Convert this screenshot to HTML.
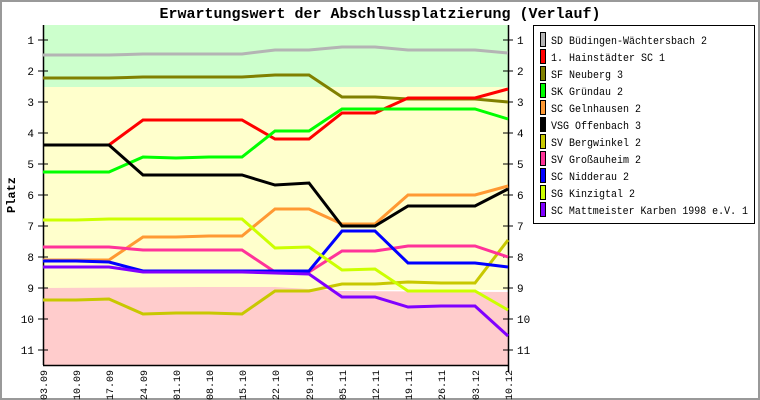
<!DOCTYPE html>
<html><head><meta charset="utf-8"><style>
html,body{margin:0;padding:0;background:#fff}
svg{display:block}
text{font-family:"Liberation Mono","DejaVu Sans Mono",monospace;fill:#000}
</style></head><body>
<svg width="760" height="400" viewBox="0 0 760 400" xmlns="http://www.w3.org/2000/svg">
<rect x="1" y="1" width="758" height="398" fill="#fff" stroke="#999" stroke-width="2"/>
<text x="380" y="18" text-anchor="middle" font-size="15" font-weight="bold">Erwartungswert der Abschlussplatzierung (Verlauf)</text>
<rect x="43" y="25" width="465" height="62" fill="#ccffcc"/>
<rect x="43" y="87" width="465" height="203" fill="#ffffcc"/>
<polygon points="43,288 200,287 275,287 342,291 508,292 508,365 43,365" fill="#ffcccc"/>
<g stroke="#000" stroke-width="1.5" fill="none">
<line x1="43.5" y1="25" x2="43.5" y2="365"/>
<line x1="43" y1="365.5" x2="508" y2="365.5"/>
<line x1="508.5" y1="25" x2="508.5" y2="372"/>
</g>
<g stroke="#000" stroke-width="1">
<line x1="38" y1="40" x2="48" y2="40"/><line x1="38" y1="71" x2="48" y2="71"/><line x1="38" y1="102" x2="48" y2="102"/><line x1="38" y1="133" x2="48" y2="133"/><line x1="38" y1="164" x2="48" y2="164"/><line x1="38" y1="195" x2="48" y2="195"/><line x1="38" y1="226" x2="48" y2="226"/><line x1="38" y1="257" x2="48" y2="257"/><line x1="38" y1="288" x2="48" y2="288"/><line x1="38" y1="319" x2="48" y2="319"/><line x1="38" y1="350" x2="48" y2="350"/>
<line x1="503" y1="40" x2="513" y2="40"/><line x1="503" y1="71" x2="513" y2="71"/><line x1="503" y1="102" x2="513" y2="102"/><line x1="503" y1="133" x2="513" y2="133"/><line x1="503" y1="164" x2="513" y2="164"/><line x1="503" y1="195" x2="513" y2="195"/><line x1="503" y1="226" x2="513" y2="226"/><line x1="503" y1="257" x2="513" y2="257"/><line x1="503" y1="288" x2="513" y2="288"/><line x1="503" y1="319" x2="513" y2="319"/><line x1="503" y1="350" x2="513" y2="350"/>
</g>
<g font-size="11" text-anchor="end">
<text x="34" y="44">1</text><text x="34" y="75">2</text><text x="34" y="106">3</text><text x="34" y="137">4</text><text x="34" y="168">5</text><text x="34" y="199">6</text><text x="34" y="230">7</text><text x="34" y="261">8</text><text x="34" y="292">9</text><text x="34" y="323">10</text><text x="34" y="354">11</text>
</g>
<g font-size="11" text-anchor="start">
<text x="517" y="44">1</text><text x="517" y="75">2</text><text x="517" y="106">3</text><text x="517" y="137">4</text><text x="517" y="168">5</text><text x="517" y="199">6</text><text x="517" y="230">7</text><text x="517" y="261">8</text><text x="517" y="292">9</text><text x="517" y="323">10</text><text x="517" y="354">11</text>
</g>
<text x="15" y="195" font-size="12" font-weight="bold" text-anchor="middle" transform="rotate(-90 15 195)">Platz</text>
<g font-size="10" text-anchor="end">
<text transform="translate(47,370) rotate(-90)">03.09</text>
<text transform="translate(80,370) rotate(-90)">10.09</text>
<text transform="translate(113,370) rotate(-90)">17.09</text>
<text transform="translate(147,370) rotate(-90)">24.09</text>
<text transform="translate(180,370) rotate(-90)">01.10</text>
<text transform="translate(213,370) rotate(-90)">08.10</text>
<text transform="translate(246,370) rotate(-90)">15.10</text>
<text transform="translate(279,370) rotate(-90)">22.10</text>
<text transform="translate(313,370) rotate(-90)">29.10</text>
<text transform="translate(346,370) rotate(-90)">05.11</text>
<text transform="translate(379,370) rotate(-90)">12.11</text>
<text transform="translate(412,370) rotate(-90)">19.11</text>
<text transform="translate(445,370) rotate(-90)">26.11</text>
<text transform="translate(479,370) rotate(-90)">03.12</text>
<text transform="translate(512,370) rotate(-90)">10.12</text>
</g>
<g fill="none" stroke-width="3" stroke-linejoin="miter">
<polyline stroke="#b4b4b4" points="43,55 76,55 109,55 143,54 176,54 209,54 242,54 275,50 309,50 342,47 375,47 408,50 441,50 475,50 508,53"/>
<polyline stroke="#808000" points="43,78 76,78 109,78 143,77 176,77 209,77 242,77 275,75 309,75 342,97 375,97 408,99 441,99 475,99 508,102"/>
<polyline stroke="#ff0000" points="43,145 76,145 109,145 143,120 176,120 209,120 242,120 275,139 309,139 342,113 375,113 408,98 441,98 475,98 508,89"/>
<polyline stroke="#00ff00" points="43,172 76,172 109,172 143,157 176,158 209,157 242,157 275,131 309,131 342,109 375,109 408,109 441,109 475,109 508,119"/>
<polyline stroke="#ff9933" points="43,260 76,260 109,260 143,237 176,237 209,236 242,236 275,209 309,209 342,224 375,224 408,195 441,195 475,195 508,186"/>
<polyline stroke="#000000" points="43,145 76,145 109,145 143,175 176,175 209,175 242,175 275,185 309,183 342,226 375,226 408,206 441,206 475,206 508,189"/>
<polyline stroke="#c8c800" points="43,300 76,300 109,299 143,314 176,313 209,313 242,314 275,291 309,291 342,284 375,284 408,282 441,283 475,283 508,240"/>
<polyline stroke="#ff3399" points="43,247 76,247 109,247 143,250 176,250 209,250 242,250 275,272 309,272 342,251 375,251 408,246 441,246 475,246 508,257"/>
<polyline stroke="#0000ff" points="43,261 76,261 109,262 143,271 176,271 209,271 242,271 275,271 309,271 342,231 375,231 408,263 441,263 475,263 508,267"/>
<polyline stroke="#ccff00" points="43,220 76,220 109,219 143,219 176,219 209,219 242,219 275,248 309,247 342,270 375,269 408,291 441,291 475,291 508,310"/>
<polyline stroke="#8000ff" points="43,267 76,267 109,267 143,272 176,272 209,272 242,272 275,273 309,274 342,297 375,297 408,307 441,306 475,306 508,336"/>
</g>
<rect x="533.5" y="25.5" width="221" height="198" fill="#fff" stroke="#000"/>
<g stroke="#000" stroke-width="1">
<rect x="540.5" y="32.5" width="5" height="14" fill="#b4b4b4"/>
<rect x="540.5" y="49.5" width="5" height="14" fill="#ff0000"/>
<rect x="540.5" y="66.5" width="5" height="14" fill="#808000"/>
<rect x="540.5" y="83.5" width="5" height="14" fill="#00ff00"/>
<rect x="540.5" y="100.5" width="5" height="14" fill="#ff9933"/>
<rect x="540.5" y="117.5" width="5" height="14" fill="#000000"/>
<rect x="540.5" y="134.5" width="5" height="14" fill="#c8c800"/>
<rect x="540.5" y="151.5" width="5" height="14" fill="#ff3399"/>
<rect x="540.5" y="168.5" width="5" height="14" fill="#0000ff"/>
<rect x="540.5" y="185.5" width="5" height="14" fill="#ccff00"/>
<rect x="540.5" y="202.5" width="5" height="14" fill="#8000ff"/>
</g>
<g font-size="11" lengthAdjust="spacingAndGlyphs">
<text x="551" y="44" textLength="156" lengthAdjust="spacingAndGlyphs">SD Büdingen-Wächtersbach 2</text>
<text x="551" y="61" textLength="114" lengthAdjust="spacingAndGlyphs">1. Hainstädter SC 1</text>
<text x="551" y="78" textLength="72" lengthAdjust="spacingAndGlyphs">SF Neuberg 3</text>
<text x="551" y="95" textLength="72" lengthAdjust="spacingAndGlyphs">SK Gründau 2</text>
<text x="551" y="112" textLength="90" lengthAdjust="spacingAndGlyphs">SC Gelnhausen 2</text>
<text x="551" y="129" textLength="90" lengthAdjust="spacingAndGlyphs">VSG Offenbach 3</text>
<text x="551" y="146" textLength="90" lengthAdjust="spacingAndGlyphs">SV Bergwinkel 2</text>
<text x="551" y="163" textLength="90" lengthAdjust="spacingAndGlyphs">SV Großauheim 2</text>
<text x="551" y="180" textLength="78" lengthAdjust="spacingAndGlyphs">SC Nidderau 2</text>
<text x="551" y="197" textLength="84" lengthAdjust="spacingAndGlyphs">SG Kinzigtal 2</text>
<text x="551" y="214" textLength="197" lengthAdjust="spacingAndGlyphs">SC Mattmeister Karben 1998 e.V. 1</text>
</g>
</svg>
</body></html>
